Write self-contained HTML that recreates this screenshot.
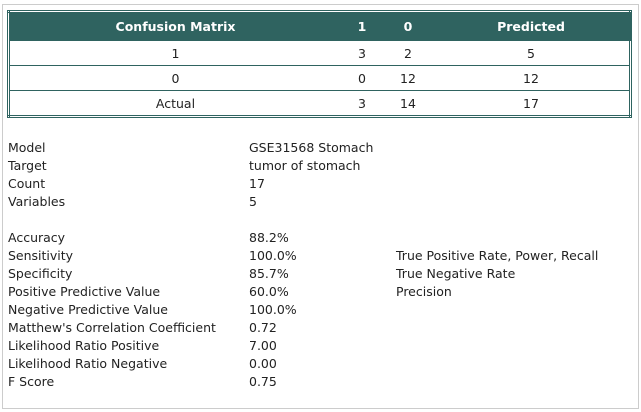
<!DOCTYPE html>
<html><head><meta charset="utf-8"><style>
body{margin:0;width:641px;height:412px;background:#fff;font-family:"DejaVu Sans","Liberation Sans",sans-serif;font-size:12.5px;color:#222;position:relative;overflow:hidden}
#box{position:absolute;left:2px;top:4px;width:635px;height:403px;border:1px solid #ccc}
table{position:absolute;left:7px;top:10px;width:625px;border-collapse:collapse;border:3px double #2f6360}
th{background:#2f6360;color:#fff;font-weight:bold;height:27px;padding:0;text-align:center}
td{height:24px;border-top:1px solid #2f6360;text-align:center;padding:0}
.r{position:absolute;left:8px;height:18px;line-height:18px}
.v{position:absolute;left:249px;height:18px;line-height:18px}
.n{position:absolute;left:396px;height:18px;line-height:18px}
</style></head><body>
<div id="box"></div>
<table>
<tr><th style="width:331px">Confusion Matrix</th><th style="width:42px">1</th><th style="width:50px">0</th><th>Predicted</th></tr>
<tr><td>1</td><td>3</td><td>2</td><td>5</td></tr>
<tr><td>0</td><td>0</td><td>12</td><td>12</td></tr>
<tr><td>Actual</td><td>3</td><td>14</td><td>17</td></tr>
</table>
<div>
<div class="r" style="top:139px">Model</div><div class="v" style="top:139px">GSE31568 Stomach</div>
<div class="r" style="top:157px">Target</div><div class="v" style="top:157px">tumor of stomach</div>
<div class="r" style="top:175px">Count</div><div class="v" style="top:175px">17</div>
<div class="r" style="top:193px">Variables</div><div class="v" style="top:193px">5</div>
<div class="r" style="top:229px">Accuracy</div><div class="v" style="top:229px">88.2%</div>
<div class="r" style="top:247px">Sensitivity</div><div class="v" style="top:247px">100.0%</div><div class="n" style="top:247px">True Positive Rate, Power, Recall</div>
<div class="r" style="top:265px">Specificity</div><div class="v" style="top:265px">85.7%</div><div class="n" style="top:265px">True Negative Rate</div>
<div class="r" style="top:283px">Positive Predictive Value</div><div class="v" style="top:283px">60.0%</div><div class="n" style="top:283px">Precision</div>
<div class="r" style="top:301px">Negative Predictive Value</div><div class="v" style="top:301px">100.0%</div>
<div class="r" style="top:319px">Matthew's Correlation Coefficient</div><div class="v" style="top:319px">0.72</div>
<div class="r" style="top:337px">Likelihood Ratio Positive</div><div class="v" style="top:337px">7.00</div>
<div class="r" style="top:355px">Likelihood Ratio Negative</div><div class="v" style="top:355px">0.00</div>
<div class="r" style="top:373px">F Score</div><div class="v" style="top:373px">0.75</div>
</div>
</body></html>
